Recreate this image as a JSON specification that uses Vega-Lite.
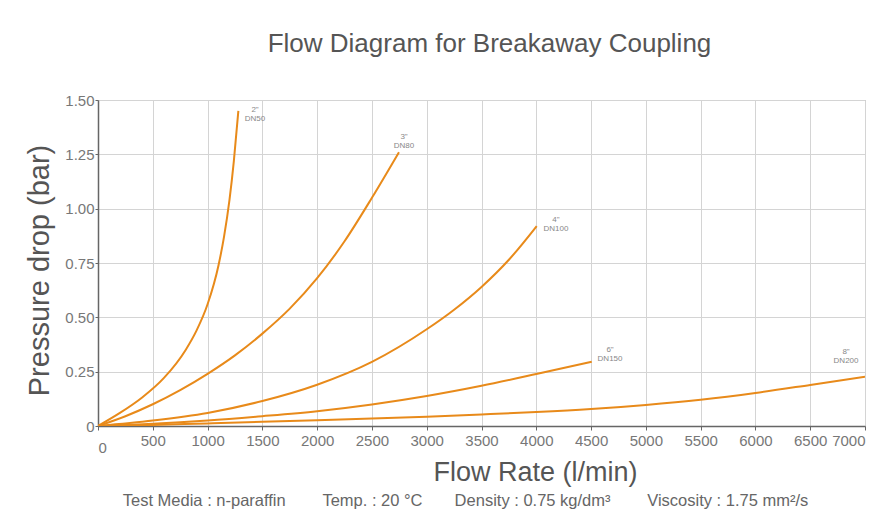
{
  "$schema": "https://vega.github.io/schema/vega-lite/v6.json",
  "width": 767,
  "height": 326,
  "autosize": {"type": "none"},
  "padding": {"left": 98, "top": 100, "right": 19, "bottom": 104},
  "background": "white",
  "config": {"font": "Liberation Sans", "view": {"stroke": "#aaaaaa"}},
  "title": {"text": "Flow Diagram for Breakaway Coupling", "fontSize": 26, "font": "Liberation Sans", "fontWeight": "normal", "color": "#555555", "anchor": "middle", "frame": "group", "offset": 36, "dx": 8},
  "datasets": {
    "curves": [
      {"size": "2in", "flow": 0, "pressure": 0},
      {"size": "2in", "flow": 200, "pressure": 0.06},
      {"size": "2in", "flow": 400, "pressure": 0.13},
      {"size": "2in", "flow": 600, "pressure": 0.22},
      {"size": "2in", "flow": 800, "pressure": 0.35},
      {"size": "2in", "flow": 900, "pressure": 0.44},
      {"size": "2in", "flow": 1000, "pressure": 0.56},
      {"size": "2in", "flow": 1100, "pressure": 0.74},
      {"size": "2in", "flow": 1150, "pressure": 0.87},
      {"size": "2in", "flow": 1200, "pressure": 1.04},
      {"size": "2in", "flow": 1240, "pressure": 1.22},
      {"size": "2in", "flow": 1281, "pressure": 1.45},
      {"size": "3in", "flow": 0, "pressure": 0},
      {"size": "3in", "flow": 250, "pressure": 0.045},
      {"size": "3in", "flow": 500, "pressure": 0.1},
      {"size": "3in", "flow": 750, "pressure": 0.165},
      {"size": "3in", "flow": 1000, "pressure": 0.24},
      {"size": "3in", "flow": 1250, "pressure": 0.325},
      {"size": "3in", "flow": 1500, "pressure": 0.425},
      {"size": "3in", "flow": 1750, "pressure": 0.54},
      {"size": "3in", "flow": 2000, "pressure": 0.68},
      {"size": "3in", "flow": 2250, "pressure": 0.85},
      {"size": "3in", "flow": 2500, "pressure": 1.05},
      {"size": "3in", "flow": 2747, "pressure": 1.26},
      {"size": "4in", "flow": 0, "pressure": 0},
      {"size": "4in", "flow": 500, "pressure": 0.025},
      {"size": "4in", "flow": 1000, "pressure": 0.06},
      {"size": "4in", "flow": 1500, "pressure": 0.115},
      {"size": "4in", "flow": 2000, "pressure": 0.19},
      {"size": "4in", "flow": 2500, "pressure": 0.295},
      {"size": "4in", "flow": 3000, "pressure": 0.445},
      {"size": "4in", "flow": 3250, "pressure": 0.535},
      {"size": "4in", "flow": 3500, "pressure": 0.64},
      {"size": "4in", "flow": 3750, "pressure": 0.765},
      {"size": "4in", "flow": 4004, "pressure": 0.92},
      {"size": "6in", "flow": 0, "pressure": 0},
      {"size": "6in", "flow": 500, "pressure": 0.01},
      {"size": "6in", "flow": 1000, "pressure": 0.025},
      {"size": "6in", "flow": 1500, "pressure": 0.045},
      {"size": "6in", "flow": 2000, "pressure": 0.068},
      {"size": "6in", "flow": 2500, "pressure": 0.099},
      {"size": "6in", "flow": 3000, "pressure": 0.138},
      {"size": "6in", "flow": 3500, "pressure": 0.185},
      {"size": "6in", "flow": 4000, "pressure": 0.239},
      {"size": "6in", "flow": 4506, "pressure": 0.296},
      {"size": "8in", "flow": 0, "pressure": 0},
      {"size": "8in", "flow": 500, "pressure": 0.005},
      {"size": "8in", "flow": 1000, "pressure": 0.012},
      {"size": "8in", "flow": 1500, "pressure": 0.019},
      {"size": "8in", "flow": 2000, "pressure": 0.026},
      {"size": "8in", "flow": 2500, "pressure": 0.034},
      {"size": "8in", "flow": 3000, "pressure": 0.043},
      {"size": "8in", "flow": 3500, "pressure": 0.053},
      {"size": "8in", "flow": 4000, "pressure": 0.064},
      {"size": "8in", "flow": 4500, "pressure": 0.078},
      {"size": "8in", "flow": 5000, "pressure": 0.097},
      {"size": "8in", "flow": 5500, "pressure": 0.121},
      {"size": "8in", "flow": 6000, "pressure": 0.152},
      {"size": "8in", "flow": 6500, "pressure": 0.189},
      {"size": "8in", "flow": 7000, "pressure": 0.227}
    ],
    "labels": [
      {"label": "2\"\nDN50", "flow": 1433, "pressure": 1.455},
      {"label": "3\"\nDN80", "flow": 2793, "pressure": 1.331},
      {"label": "4\"\nDN100", "flow": 4180, "pressure": 0.948},
      {"label": "6\"\nDN150", "flow": 4673, "pressure": 0.35},
      {"label": "8\"\nDN200", "flow": 6827, "pressure": 0.341}
    ]
  },
  "encoding": {
    "y": {
      "field": "pressure", "type": "quantitative",
      "scale": {"domain": [0, 1.5], "nice": false, "zero": true},
      "axis": {
        "title": "Pressure drop (bar)", "titleFontSize": 29, "titleFontWeight": "normal", "titleColor": "#555555", "titlePadding": 10, "titleY": 170,
        "values": [0, 0.25, 0.5, 0.75, 1, 1.25, 1.5],
        "labelExpr": "datum.value == 0 ? '0' : format(datum.value, '.2f')",
        "labelFontSize": 15, "labelColor": "#777777", "labelPadding": 1,
        "tickSize": 3, "tickColor": "#666666",
        "domainColor": "#666666", "domainWidth": 1.5,
        "gridColor": "#d4d4d4"
      }
    }
  },
  "layer": [
    {
      "data": {"name": "curves"},
      "mark": {"type": "line", "color": "#E88A1A", "strokeWidth": 2, "interpolate": "monotone", "clip": true},
      "encoding": {
        "x": {
          "field": "flow", "type": "quantitative",
          "scale": {"domain": [0, 7000], "nice": false},
          "axis": {
            "orient": "bottom",
            "title": "Flow Rate (l/min)", "titleFontSize": 27, "titleFontWeight": "normal", "titleColor": "#555555", "titlePadding": 4, "titleX": 437,
            "values": [0, 500, 1000, 1500, 2000, 2500, 3000, 3500, 4000, 4500, 5000, 5500, 6000, 6500, 7000],
            "format": "d",
            "labelFontSize": 15, "labelColor": "#777777",
            "labelPadding": {"condition": {"test": "datum.value == 0", "value": 10}, "value": 3},
            "tickSize": 4, "tickColor": "#666666",
            "domainColor": "#666666", "domainWidth": 1.5,
            "gridColor": "#d4d4d4"
          }
        },
        "detail": {"field": "size", "type": "nominal"}
      }
    },
    {
      "data": {"name": "labels"},
      "mark": {"type": "text", "fontSize": 8, "color": "#888888", "lineBreak": "\n", "lineHeight": 9, "align": "center", "baseline": "middle"},
      "encoding": {
        "x": {
          "field": "flow", "type": "quantitative",
          "scale": {"domain": [0, 7000], "nice": false},
          "axis": {
            "orient": "bottom",
            "title": "Test Media : n-paraffin\u00a0\u00a0\u00a0\u00a0\u00a0\u00a0\u00a0\u00a0Temp. : 20 °C\u00a0\u00a0\u00a0\u00a0\u00a0\u00a0\u00a0Density : 0.75 kg/dm³\u00a0\u00a0\u00a0\u00a0\u00a0\u00a0\u00a0\u00a0Viscosity : 1.75 mm²/s",
            "titleFontSize": 16.5, "titleFontWeight": "normal", "titleColor": "#666666",
            "labels": false, "ticks": false, "domain": false, "grid": false,
            "offset": 66, "titlePadding": 0, "titleX": 367
          }
        },
        "text": {"field": "label", "type": "nominal"}
      }
    }
  ],
  "resolve": {"axis": {"x": "independent"}}
}
